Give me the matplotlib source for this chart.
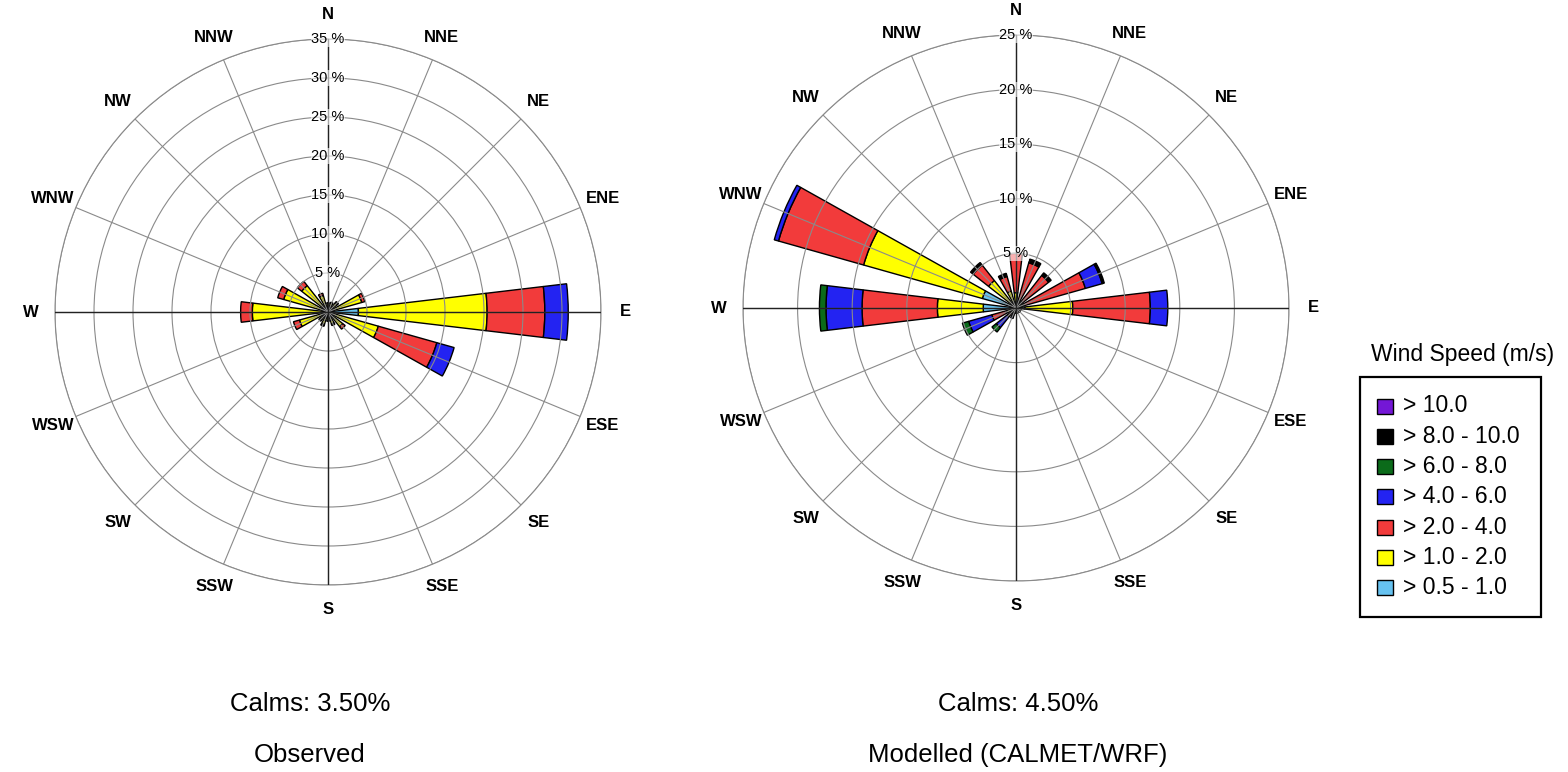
import numpy as np
import matplotlib
matplotlib.use("Agg")
import matplotlib.pyplot as plt
from matplotlib.patches import Rectangle

plt.rcParams['font.family'] = ['Liberation Sans', 'DejaVu Sans']

# ---------------- data ----------------
directions = ['N', 'NNE', 'NE', 'ENE', 'E', 'ESE', 'SE', 'SSE',
              'S', 'SSW', 'SW', 'WSW', 'W', 'WNW', 'NW', 'NNW']
speed_bins = ['> 0.5 - 1.0', '> 1.0 - 2.0', '> 2.0 - 4.0', '> 4.0 - 6.0',
              '> 6.0 - 8.0', '> 8.0 - 10.0', '> 10.0']
bin_colors = ['#66C2F0', '#FFFF00', '#F23B3B', '#2323F2', '#0B6B1A', '#000000', '#7417D6']

# Observed: frequency (%) per speed bin, per direction (N .. NNW)
obs_0p5_1 = [0.2, 0.2, 0.3, 0.4, 3.9, 0.6, 0.2, 0.2, 0.2, 0.2, 0.2, 0.3, 0.5, 0.4, 0.3, 0.2]
obs_1_2   = [0.9, 1.0, 1.2, 4.1, 16.5, 6.1, 2.2, 1.4, 0.9, 1.5, 1.1, 3.5, 9.2, 5.5, 4.0, 2.0]
obs_2_4   = [0.1, 0.1, 0.2, 0.4, 7.4, 7.8, 0.4, 0.2, 0.1, 0.2, 0.2, 0.8, 1.5, 0.8, 0.7, 0.3]
obs_4_6   = [0.0, 0.0, 0.0, 0.0, 3.0, 2.3, 0.0, 0.0, 0.0, 0.0, 0.0, 0.0, 0.0, 0.0, 0.0, 0.0]
obs_6_8   = [0.0] * 16
obs_8_10  = [0.0] * 16
obs_gt10  = [0.0] * 16
obs_calms = 3.50

# Modelled (CALMET/WRF)
mod_0p5_1 = [0.4, 0.3, 0.3, 0.3, 0.8, 0.2, 0.2, 0.2, 0.2, 0.2, 0.3, 0.5, 3.0, 3.2, 0.5, 0.4]
mod_1_2   = [1.0, 0.4, 0.4, 0.4, 4.4, 0.3, 0.3, 0.3, 0.3, 0.2, 0.2, 0.4, 4.2, 11.3, 2.7, 1.2]
mod_2_4   = [3.6, 3.6, 3.1, 5.9, 7.1, 0.0, 0.0, 0.0, 0.0, 0.3, 0.5, 1.4, 6.9, 8.1, 1.8, 1.4]
mod_4_6   = [0.0, 0.0, 0.0, 1.6, 1.6, 0.0, 0.0, 0.0, 0.0, 0.3, 1.3, 2.2, 3.3, 0.4, 0.0, 0.0]
mod_6_8   = [0.0, 0.0, 0.0, 0.0, 0.0, 0.0, 0.0, 0.0, 0.0, 0.0, 0.5, 0.6, 0.6, 0.0, 0.0, 0.0]
mod_8_10  = [0.0, 0.35, 0.3, 0.2, 0.0, 0.0, 0.0, 0.0, 0.0, 0.0, 0.0, 0.0, 0.0, 0.0, 0.3, 0.3]
mod_gt10  = [0.0] * 16
mod_calms = 4.50

obs_segments = [obs_0p5_1, obs_1_2, obs_2_4, obs_4_6, obs_6_8, obs_8_10, obs_gt10]
mod_segments = [mod_0p5_1, mod_1_2, mod_2_4, mod_4_6, mod_6_8, mod_8_10, mod_gt10]

# ---------------- figure ----------------
W, H = 1568, 772
fig = plt.figure(figsize=(W / 100, H / 100), dpi=100)
fig.patch.set_facecolor('white')

overlay = fig.add_axes([0, 0, 1, 1], zorder=-1)
overlay.set_xlim(0, W)
overlay.set_ylim(H, 0)
overlay.axis('off')


def polar_at(cx, cy, R):
    return fig.add_axes([(cx - R) / W, (H - cy - R) / H, 2 * R / W, 2 * R / H],
                        projection='polar')


def draw_rose(ax, segments, rmax, step):
    ax.set_theta_zero_location('N')
    ax.set_theta_direction(-1)
    theta = np.deg2rad(np.arange(16) * 22.5)
    width = np.deg2rad(13.5)
    bottom = np.zeros(16)
    for vals, col in zip(segments, bin_colors):
        v = np.asarray(vals, dtype=float)
        m = v > 0
        if m.any():
            ax.bar(theta[m], v[m], width=width, bottom=bottom[m], color=col,
                   edgecolor='black', linewidth=1.0, zorder=2)
        bottom += v
    ax.set_ylim(0, rmax)
    rings = np.arange(step, rmax + 0.01, step)
    ax.set_yticks(rings)
    ax.set_yticklabels([])
    ax.set_xticks(theta)
    ax.set_xticklabels([])
    ax.set_axisbelow(False)
    ax.grid(True, color='#8a8a8a', linewidth=0.8)
    ax.spines['polar'].set_color('#8a8a8a')
    ax.spines['polar'].set_linewidth(0.8)
    for t in (0, np.pi / 2, np.pi, 1.5 * np.pi):
        ax.plot([t, t], [0, rmax], color='#222222', linewidth=1.0, zorder=3)
    for r in rings:
        ax.text(0, r, f'{int(r)} %', ha='center', va='center', fontsize=10.5,
                zorder=4, bbox=dict(fc='white', ec='none', alpha=0.6, pad=0.4))
    for t, d in zip(theta, directions):
        ax.text(t, rmax * 1.09, d, ha='center', va='center', fontsize=12,
                fontweight='bold', clip_on=False)


ax1 = polar_at(328, 312, 273)
draw_rose(ax1, obs_segments, 35, 5)

ax2 = polar_at(1016, 308, 273)
draw_rose(ax2, mod_segments, 25, 5)

# bottom captions
overlay.text(310, 704, f'Calms: {obs_calms:.2f}%', ha='center', va='center', fontsize=18.5)
overlay.text(310, 755, 'Observed', ha='center', va='center', fontsize=18.5)
overlay.text(1018, 704, f'Calms: {mod_calms:.2f}%', ha='center', va='center', fontsize=18.5)
overlay.text(1018, 755, 'Modelled (CALMET/WRF)', ha='center', va='center', fontsize=18.5)

# legend
overlay.text(1463, 354, 'Wind Speed (m/s)', ha='center', va='center', fontsize=16.5)
overlay.add_patch(Rectangle((1360, 377), 181, 240, fill=False, edgecolor='black', linewidth=1.6))
for i, (lab, col) in enumerate(zip(speed_bins[::-1], bin_colors[::-1])):
    y = 406 + i * 30.3
    overlay.add_patch(Rectangle((1377, y - 7.5), 16, 15, facecolor=col,
                                edgecolor='black', linewidth=1.0))
    overlay.text(1403, y, lab, ha='left', va='center', fontsize=16.5)

fig.savefig('out.png', dpi=100, facecolor='white')
